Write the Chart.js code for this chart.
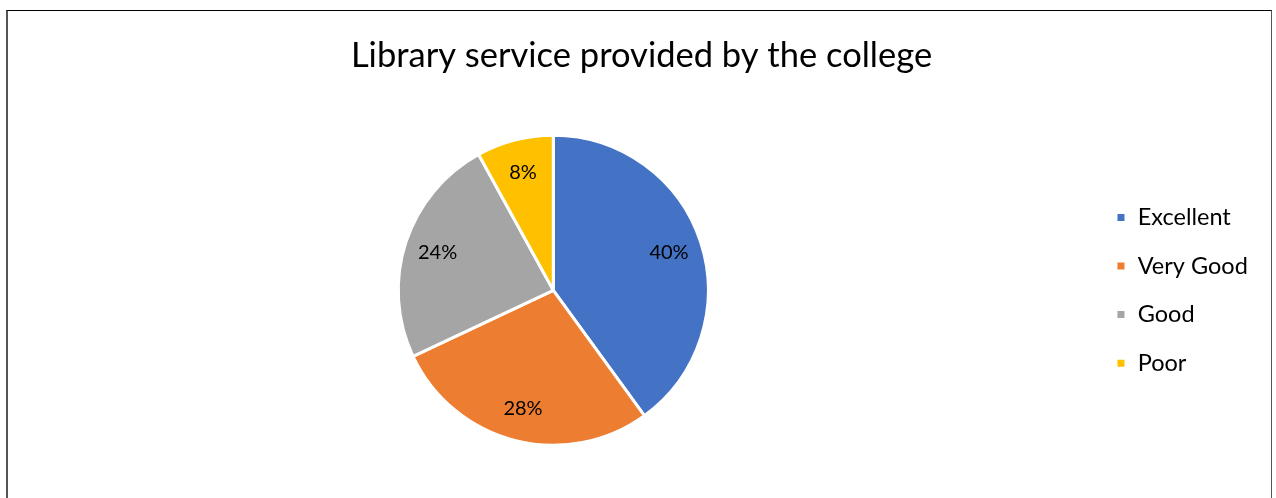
<!DOCTYPE html>
<html>
<head>
<meta charset="utf-8">
<script src="https://cdn.jsdelivr.net/npm/chart.js@4.4.0/dist/chart.umd.min.js"></script>
<style>
  html, body { margin: 0; padding: 0; background: #ffffff; overflow: hidden; }
  #wrap { position: relative; width: 1276px; height: 498px; }
  #frame { position: absolute; left: 6px; top: 10px; width: 1266px; height: 500px;
           border-top: 1px solid #000; border-left: 2px solid #555; border-right: 1px solid #555; box-sizing: border-box; pointer-events: none; }
  canvas { position: absolute; left: 0; top: 0; }
</style>
</head>
<body>
<div id="wrap">
  <canvas id="c" width="1276" height="498"></canvas>
  <div id="frame"></div>
</div>
<script>
const titleText = 'Library service provided by the college';
const categories = ['Excellent', 'Very Good', 'Good', 'Poor'];
const percentValues = [40, 28, 24, 8];
const sliceColors = ['#4472C4', '#ED7D31', '#A5A5A5', '#FFC000'];

const FONT = 'Lato, "Open Sans", sans-serif';

// Title drawn centred on the chart frame
const frameTitle = {
  id: 'frameTitle',
  afterDraw(chart, args, opts) {
    const ctx = chart.ctx;
    ctx.save();
    ctx.font = opts.size + 'px ' + FONT;
    ctx.fillStyle = '#000000';
    ctx.textAlign = 'center';
    ctx.textBaseline = 'middle';
    ctx.fillText(opts.text, chart.width / 2 + opts.shift, opts.y);
    ctx.restore();
  }
};

const pieLabels = {
  id: 'pieLabels',
  afterDatasetsDraw(chart) {
    const ctx = chart.ctx;
    const meta = chart.getDatasetMeta(0);
    const values = chart.data.datasets[0].data;
    ctx.save();
    ctx.font = '20px ' + FONT;
    ctx.fillStyle = '#000000';
    ctx.textAlign = 'center';
    ctx.textBaseline = 'middle';
    meta.data.forEach((arc, i) => {
      const p = arc.getProps(['x', 'y', 'startAngle', 'endAngle', 'outerRadius'], true);
      const mid = (p.startAngle + p.endAngle) / 2;
      const r = p.outerRadius * 0.785;
      ctx.fillText(values[i] + '%', p.x + Math.cos(mid) * r, p.y + Math.sin(mid) * r);
    });
    ctx.restore();
  }
};

new Chart(document.getElementById('c'), {
  type: 'pie',
  data: {
    labels: categories,
    datasets: [{
      data: percentValues,
      backgroundColor: sliceColors,
      borderColor: '#ffffff',
      borderWidth: 3
    }]
  },
  options: {
    responsive: false,
    animation: false,
    layout: { padding: { left: 15.7, right: 18.2, top: 133.8, bottom: 51.2 } },
    plugins: {
      tooltip: { enabled: false },
      title: { display: false },
      frameTitle: { text: titleText, size: 34.5, y: 56, shift: 3.5 },
      legend: {
        position: 'right',
        align: 'center',
        fullSize: false,
        labels: {
          color: '#000000',
          font: { family: FONT, size: 23.5 },
          boxWidth: 10,
          boxHeight: 10,
          padding: 25.1
        }
      }
    }
  },
  plugins: [pieLabels, frameTitle]
});
</script>
</body>
</html>
